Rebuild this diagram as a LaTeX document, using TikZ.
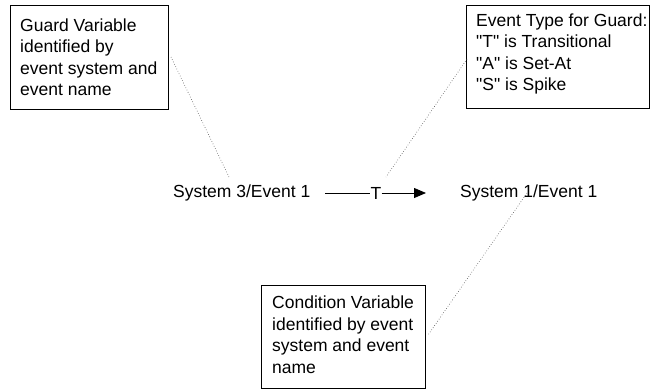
\documentclass[tikz,border=0pt]{standalone}
\usepackage{fontspec}
\newfontfamily\arialf{Liberation Sans}
\usetikzlibrary{arrows.meta}
\begin{document}
\begin{tikzpicture}[x=1pt,y=-1pt,
  box/.style={draw=black, line width=0.9pt, anchor=north west, inner sep=0pt},
  txt/.style={anchor=west, align=left, inner sep=0pt, font=\arialf\fontsize{17.5}{21.5}\selectfont},
  lbl/.style={font=\arialf\fontsize{17.5}{21.5}\selectfont, inner sep=0pt},
  leader/.style={draw=black!70, line width=0.6pt, dotted},
  flow/.style={draw=black, line width=0.8pt}]
\useasboundingbox (0,0) rectangle (650,389);
\node[box, minimum width=158pt, minimum height=104pt] (guard) at (10,5) {};
\node[txt] (guardt) at ([xshift=10pt]guard.west)
  {Guard Variable\\identified by\\event system and\\event name};
\node[box, minimum width=183pt, minimum height=103pt] (type) at (466,5) {};
\node[txt] (typet) at ([xshift=10pt,yshift=3pt]type.west)
  {Event Type for Guard:\\"T" is Transitional\\"A" is Set-At\\"S" is Spike};
\node[box, minimum width=164pt, minimum height=103pt] (cond) at (261,285) {};
\node[txt] (condt) at ([xshift=11pt,yshift=2pt]cond.west)
  {Condition Variable\\identified by event\\system and event\\name};
\node[lbl, anchor=west] (src) at (173,193) {System 3/Event 1};
\node[lbl, anchor=west] (dst) at (460,193) {System 1/Event 1};
\node[lbl] (t) at (376,193) {T};
\coordinate (a0) at (325,193);
\coordinate (a1) at (426,193);
\draw[flow] (a0) -- (t.west);
\draw[flow, -{Triangle[length=12pt,width=10pt]}] (t.east) -- (a1);
\coordinate (g0) at (171,57);
\coordinate (g1) at (229,177);
\draw[leader] (g0) -- (g1);
\coordinate (y0) at (467,59);
\coordinate (y1) at (386,177);
\draw[leader] (y0) -- (y1);
\coordinate (c0) at (527,193);
\coordinate (c1) at (428,335);
\draw[leader] (c0) -- (c1);
\end{tikzpicture}
\end{document}
